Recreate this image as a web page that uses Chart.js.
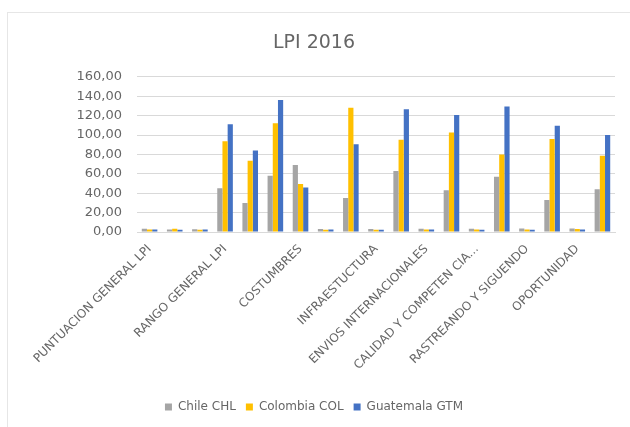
<!DOCTYPE html>
<html>
<head>
<meta charset="utf-8">
<script src="https://cdn.jsdelivr.net/npm/chart.js@4/dist/chart.umd.min.js"></script>
<style>
  html, body { margin: 0; padding: 0; background: #ffffff; }
  #wrap { position: relative; width: 630px; height: 427px; overflow: hidden; }
  #frame { position: absolute; left: 7px; top: 12px; right: -2px; bottom: -2px;
           border-left: 1px solid #e6e6e6; border-top: 1px solid #e6e6e6; }
  canvas { position: absolute; left: 0; top: 0; }
</style>
</head>
<body>
<div id="wrap">
  <div id="frame"></div>
  <canvas id="lpi" width="630" height="427"></canvas>
</div>
<script>
// Logistics Performance Index 2016 – Chile, Colombia, Guatemala
const categories = [
  'PUNTUACION GENERAL LPI', '', '',
  'RANGO GENERAL LPI', '', '',
  'COSTUMBRES', '', '',
  'INFRAESTUCTURA', '',
  'ENVIOS INTERNACIONALES', '',
  'CALIDAD Y COMPETEN CIA...', '',
  'RASTREANDO Y SIGUENDO', '',
  'OPORTUNIDAD', ''
];

const chileCHL     = [3.25, 2.5, 2.8, 45, 30, 58, 69, 3.0, 35, 3.1, 63, 3.3, 43, 3.3, 57, 3.6, 33, 3.7, 44];
const colombiaCOL  = [2.61, 3.4, 2.3, 93.5, 73.5, 112, 49.5, 2.2, 128, 2.4, 95, 2.5, 102.5, 2.7, 80, 2.6, 96, 3.2, 78.5];
const guatemalaGTM = [2.48, 2.3, 2.6, 111, 84, 136, 46, 2.5, 90.5, 2.3, 126.5, 2.5, 120.5, 2.4, 129.5, 2.4, 109.5, 2.6, 100];

const yTicks = { min: 0, max: 160, step: 20 };

const FONT = 'DejaVu Sans';
const TEXT = '#666666';
const GRID = '#d9d9d9';

const fmt = v => Number(v).toFixed(2).replace('.', ',');

new Chart(document.getElementById('lpi'), {
  type: 'bar',
  data: {
    labels: categories,
    datasets: [
      { label: 'Chile CHL',     data: chileCHL,     backgroundColor: '#a5a5a5' },
      { label: 'Colombia COL',  data: colombiaCOL,  backgroundColor: '#ffc000' },
      { label: 'Guatemala GTM', data: guatemalaGTM, backgroundColor: '#4472c4' }
    ]
  },
  options: {
    responsive: false,
    animation: false,
    devicePixelRatio: 1,
    categoryPercentage: 0.62,
    barPercentage: 1.0,
    layout: { padding: { left: 13, right: 15, top: 0, bottom: 4 } },
    plugins: {
      title: {
        display: true,
        text: 'LPI 2016',
        color: TEXT,
        font: { family: FONT, size: 19, weight: 'normal' },
        padding: { top: 32, bottom: 22 }
      },
      legend: {
        position: 'bottom',
        labels: {
          color: TEXT,
          font: { family: FONT, size: 12 },
          boxWidth: 7,
          boxHeight: 7,
          padding: 10
        }
      },
      tooltip: { enabled: false }
    },
    scales: {
      x: {
        grid: { display: false },
        border: { display: true, color: GRID },
        ticks: {
          color: TEXT,
          font: { family: FONT, size: 12 },
          autoSkip: false,
          maxRotation: 45,
          minRotation: 45,
          padding: 2
        },
        afterFit: s => { s.height = 159; }
      },
      y: {
        min: yTicks.min,
        max: yTicks.max,
        grid: { color: GRID, drawTicks: false },
        border: { display: false },
        ticks: {
          stepSize: yTicks.step,
          color: TEXT,
          font: { family: FONT, size: 13 },
          padding: 15,
          callback: v => fmt(v)
        },
        afterFit: s => { s.width = 124; }
      }
    }
  }
});
</script>
</body>
</html>
